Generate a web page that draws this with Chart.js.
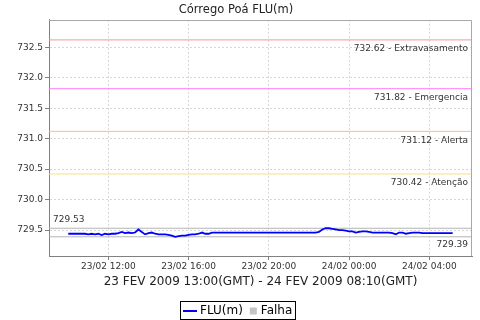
<!DOCTYPE html>
<html>
<head>
<meta charset="utf-8">
<title>Córrego Poá FLU(m)</title>
<script src="https://cdn.jsdelivr.net/npm/chart.js@4.4.1/dist/chart.umd.min.js"></script>
<style>
  html, body { margin: 0; padding: 0; background: #fff; }
</style>
</head>
<body>
<canvas id="grafico" width="480" height="320"></canvas>
<script>
(() => {
  'use strict';

  // === Dados ===
  const TITULO   = 'Córrego Poá FLU(m)';
  const PERIODO  = '23 FEV 2009 13:00(GMT) - 24 FEV 2009 08:10(GMT)';
  const INICIO_H = 10;      // primeira leitura: 23/02 10:00 (hora local)
  const PASSO_H  = 1 / 6;   // leituras a cada 10 min

  const FLU = [
    729.44,729.44,729.44,729.44,729.44,729.44,729.43,729.44,729.43,729.44,729.42,729.44,
    729.43,729.44,729.44,729.45,729.47,729.45,729.46,729.45,729.46,729.51,729.47,729.43,
    729.45,729.46,729.44,729.43,729.43,729.43,729.42,729.41,729.39,729.40,729.41,729.41,
    729.42,729.43,729.43,729.44,729.46,729.44,729.44,729.46,729.46,729.46,729.46,729.46,
    729.46,729.46,729.46,729.46,729.46,729.46,729.46,729.46,729.46,729.46,729.46,729.46,
    729.46,729.46,729.46,729.46,729.46,729.46,729.46,729.46,729.46,729.46,729.46,729.46,
    729.46,729.46,729.46,729.47,729.51,729.53,729.53,729.52,729.51,729.50,729.50,729.49,
    729.48,729.48,729.46,729.47,729.48,729.48,729.47,729.46,729.46,729.46,729.46,729.46,
    729.46,729.45,729.43,729.46,729.46,729.44,729.45,729.46,729.46,729.46,729.45,729.45,
    729.45,729.45,729.45,729.45,729.45,729.45,729.45,729.45
  ];

  // cotas de alerta
  const NIVEIS       = [732.62, 731.82, 731.12, 730.42];
  const NIVEIS_NOME  = ['Extravasamento', 'Emergencia', 'Alerta', 'Atenção'];
  const NIVEIS_COR   = ['#f09898', '#ff80ff', '#f5c090', '#f3e08e'];

  const X_TICKS = [12, 16, 20, 24, 28];
  const X_LABELS = ['23/02 12:00', '23/02 16:00', '23/02 20:00', '24/02 00:00', '24/02 04:00'];
  const Y_TICKS = [729.5, 730.0, 730.5, 731.0, 731.5, 732.0, 732.5];

  const X_MIN = 9.04, X_MAX = 30.13;
  const Y_MIN = 729.075, Y_MAX = 732.95;

  const LEGENDA = ['FLU(m)', 'Falha'];
  const COR_FLU = '#0000ff';
  const COR_FALHA = '#c4c4c4';

  // === Montagem ===
  const pontos = FLU.map((v, i) => ({ x: INICIO_H + i * PASSO_H, y: v }));
  const vMax = Math.max(...FLU);
  const vMin = Math.min(...FLU);

  const linhaH = (v, cor) => ({
    data: [{ x: X_MIN, y: v }, { x: X_MAX, y: v }],
    borderColor: cor, borderWidth: 1, pointRadius: 0
  });

  const datasets = [
    { label: LEGENDA[0], data: pontos, borderColor: COR_FLU, borderWidth: 1.8,
      pointRadius: 0, tension: 0 },
    linhaH(vMax, '#b4b4b4'),
    linhaH(vMin, '#b4b4b4'),
    ...NIVEIS.map((v, i) => linhaH(v, NIVEIS_COR[i]))
  ];

  const FONTE = '"DejaVu Sans", sans-serif';
  Chart.defaults.font.family = FONTE;
  Chart.defaults.color = '#333';

  // textos dos níveis, moldura e legenda
  const extras = {
    id: 'extras',
    afterDatasetsDraw(chart){
      const { ctx, chartArea: a, scales: { y } } = chart;
      ctx.save();
      ctx.strokeStyle = '#a8a8a8';
      ctx.lineWidth = 1;
      ctx.beginPath();
      ctx.moveTo(a.left, Math.round(a.top) + 0.5);
      ctx.lineTo(Math.round(a.right) - 0.5, Math.round(a.top) + 0.5);
      ctx.lineTo(Math.round(a.right) - 0.5, a.bottom);
      ctx.stroke();

      ctx.font = '9px ' + FONTE;
      ctx.fillStyle = '#333';
      ctx.textBaseline = 'middle';
      ctx.textAlign = 'right';
      NIVEIS.forEach((v, i) => {
        ctx.fillText(v.toFixed(2) + ' - ' + NIVEIS_NOME[i], a.right - 4, y.getPixelForValue(v) + 9);
      });
      ctx.fillText(vMin.toFixed(2), a.right - 4, y.getPixelForValue(vMin) + 8);
      ctx.textAlign = 'left';
      ctx.fillText(vMax.toFixed(2), a.left + 4, y.getPixelForValue(vMax) - 9);
      ctx.restore();
    },
    afterDraw(chart){
      const { ctx } = chart;
      const cy = 311;
      ctx.save();
      ctx.font = '12px ' + FONTE;
      ctx.textBaseline = 'middle';
      ctx.textAlign = 'left';
      const w1 = ctx.measureText(LEGENDA[0]).width;
      const w2 = ctx.measureText(LEGENDA[1]).width;
      const total = 3 + 14 + 3 + w1 + 7 + 7 + 4 + w2 + 3;
      const x0 = Math.round(238 - total / 2) + 0.5;
      ctx.strokeStyle = '#000';
      ctx.lineWidth = 1;
      ctx.strokeRect(x0, 301.5, Math.round(total), 18);
      let x = x0 + 2.5;
      ctx.strokeStyle = COR_FLU;
      ctx.lineWidth = 2;
      ctx.beginPath(); ctx.moveTo(x, cy); ctx.lineTo(x + 14, cy); ctx.stroke();
      x += 17;
      ctx.fillStyle = '#000';
      ctx.fillText(LEGENDA[0], x, cy);
      x += w1 + 7;
      ctx.fillStyle = COR_FALHA;
      ctx.fillRect(x, cy - 3.5, 7, 7);
      x += 11;
      ctx.fillStyle = '#000';
      ctx.fillText(LEGENDA[1], x, cy);
      ctx.restore();
    }
  };

  new Chart(document.getElementById('grafico'), {
    type: 'line',
    data: { datasets },
    options: {
      responsive: false,
      animation: false,
      layout: { padding: { left: 0, right: 8, top: 0, bottom: 28 } },
      plugins: {
        legend: { display: false },
        tooltip: { enabled: false },
        title: {
          display: true, text: TITULO, color: '#222',
          font: { size: 11.5, weight: 'normal' },
          padding: { top: 3, bottom: 3 }
        }
      },
      scales: {
        x: {
          type: 'linear', min: X_MIN, max: X_MAX,
          afterBuildTicks: s => { s.ticks = X_TICKS.map(v => ({ value: v })); },
          afterFit: s => { s.height = 36; },
          ticks: {
            font: { size: 9 }, padding: 1, maxRotation: 0, autoSkip: false,
            callback: v => X_LABELS[X_TICKS.indexOf(v)] ?? ''
          },
          grid: { color: '#d6d6d6', tickColor: '#808080', tickLength: 4 },
          border: { color: '#808080', dash: [2, 2] },
          title: {
            display: true, text: PERIODO, color: '#222',
            font: { size: 12 }, padding: { top: 0, bottom: 3 }
          }
        },
        y: {
          min: Y_MIN, max: Y_MAX,
          afterBuildTicks: s => { s.ticks = Y_TICKS.map(v => ({ value: v })); },
          afterFit: s => { s.width = 49; },
          ticks: { font: { size: 9 }, padding: 2, callback: v => Number(v).toFixed(1) },
          grid: { color: '#d6d6d6', tickColor: '#808080', tickLength: 4 },
          border: { color: '#808080', dash: [2, 2] }
        }
      }
    },
    plugins: [extras]
  });
})();
</script>
</body>
</html>
